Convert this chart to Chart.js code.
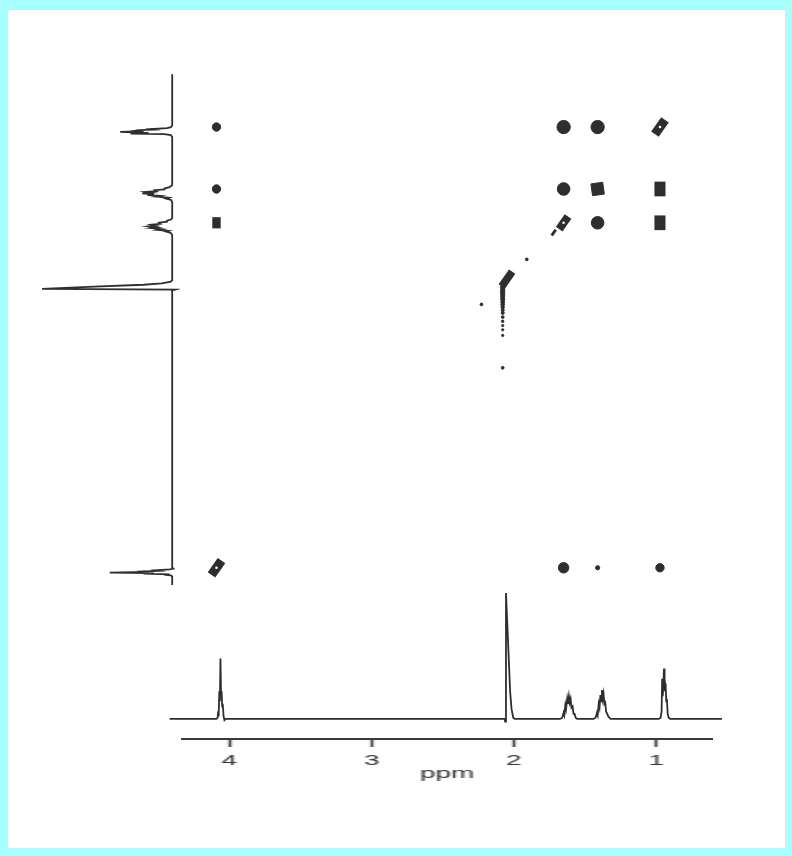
<!DOCTYPE html>
<html>
<head>
<meta charset="utf-8">
<script src="https://cdn.jsdelivr.net/npm/chart.js@4/dist/chart.umd.min.js"></script>
<style>
  html, body { margin: 0; padding: 0; }
  body { width: 792px; height: 856px; background: #a6fefe; position: relative; overflow: hidden; }
  #sheet { position: absolute; left: 8px; top: 10px; width: 777px; height: 838px; background: #fff; }
  canvas { position: absolute; }
</style>
</head>
<body>
<div id="sheet"></div>
<canvas id="proj" width="160" height="515" style="left:20px;top:70px;width:160px;height:515px"></canvas>
<canvas id="cosy" width="500" height="500" style="left:190px;top:90px;width:500px;height:500px"></canvas>
<canvas id="spec" width="600" height="175" style="left:150px;top:570px;width:600px;height:175px"></canvas>
<canvas id="axis" width="266" height="50" style="left:181px;top:733px;width:532px;height:50px"></canvas>
<script>
// 1D proton spectrum (ppm / relative intensity)
// the same trace is reused as the F1 projection on the left
const specPpm = [
  4.42, 4.09, 4.082, 4.078, 4.075, 4.070, 4.066, 4.062, 4.058, 4.054, 4.050, 4.046, 4.040, 4.034, 4.025,
  2.075, 2.062, 2.057, 2.051, 2.036, 2.022, 2.012, 2.000, 1.990,
  1.670, 1.655, 1.645, 1.640, 1.633, 1.628, 1.620, 1.615, 1.608, 1.603, 1.596, 1.590, 1.582, 1.575, 1.568, 1.560, 1.550,
  1.435, 1.420, 1.410, 1.405, 1.398, 1.392, 1.386, 1.381, 1.375, 1.370, 1.364, 1.358, 1.352, 1.346, 1.340, 1.330, 1.315,
  0.975, 0.962, 0.955, 0.951, 0.947, 0.943, 0.938, 0.934, 0.930, 0.926, 0.922, 0.918, 0.912, 0.905, 0.895, 0.53
];
const specInt = [
  0, 0, 1, 6, 2, 22, 14, 48, 20, 22, 10, 12, 2, -1, 0,
  0, 0, -2, 100, 60, 22, 8, 1, 0,
  0, 1, 5, 3, 11, 8, 16, 12, 18, 13, 16, 9, 10, 4, 4, 1, 0,
  0, 1, 5, 3, 12, 9, 19, 14, 23, 16, 20, 12, 13, 6, 6, 2, 0,
  0, 1, 6, 32, 18, 26, 40, 22, 28, 25, 14, 16, 4, 1, 0, 0
];

// COSY map peaks: F2 (horizontal ppm), F1 (vertical ppm), contour level, kind
const peakF2 = [
  4.06, 1.61, 1.37, 0.93,
  4.06, 1.61, 1.37, 0.93,
  4.06, 1.61, 1.37, 0.93,
  1.68, 1.87, 2.01, 2.19,
  2.04, 2.04, 2.04, 2.04, 2.04, 2.04, 2.04, 2.04, 2.04, 2.04, 2.04, 2.04, 2.04, 2.04, 2.04, 2.04,
  4.06, 1.61, 1.37, 0.93
];
const peakF1 = [
  0.93, 0.93, 0.93, 0.93,
  1.37, 1.37, 1.37, 1.37,
  1.61, 1.61, 1.61, 1.61,
  1.68, 1.87, 2.01, 2.19,
  2.07, 2.09, 2.11, 2.13, 2.15, 2.17, 2.19, 2.21, 2.23, 2.25, 2.28, 2.31, 2.34, 2.37, 2.41, 2.64,
  4.06, 4.06, 4.06, 4.06
];
const peakLevel = [
  6, 9.5, 9.5, 12.5,
  6, 9, 12, 10.5,
  8, 11, 9, 10.5,
  5, 2, 13, 2,
  3.2, 3.2, 3.2, 3, 3, 2.8, 2.6, 2.4, 2.2, 2.2, 2, 1.8, 1.6, 1.6, 1.6, 2,
  12.5, 7.5, 3, 6
];
const peakKind = [
  'round', 'round', 'round', 'diag',
  'round', 'round', 'square', 'tall',
  'tall', 'diag', 'round', 'tall',
  'ridge', 'round', 'ridge', 'round',
  'round', 'round', 'round', 'round', 'round', 'round', 'round', 'round',
  'round', 'round', 'round', 'round', 'round', 'round', 'round', 'round',
  'diag', 'round', 'round', 'round'
];

const ppmTicks = [1, 2, 3, 4];

Chart.defaults.animation = false;
Chart.defaults.events = [];
Chart.defaults.plugins.legend.display = false;
Chart.defaults.plugins.tooltip.enabled = false;
Chart.defaults.font.family = "'Liberation Sans', Arial, sans-serif";
Chart.defaults.color = '#333';
Chart.defaults.layout.autoPadding = false;

const ink = '#2e2e2e';
const specPoints = specPpm.map((p, i) => ({ x: p, y: specInt[i] }));
const projPoints = specPpm.map((p, i) => ({ x: specInt[i], y: p }));
const peakPoints = peakF2.map((p, i) => ({ x: p, y: peakF1[i] }));
const holePoints = peakPoints.filter((pt, i) => peakKind[i] === 'diag');

const hidden = (min, max, reverse) => ({ type: 'linear', display: false, min: min, max: max, reverse: reverse });

// bottom 1D trace
new Chart(document.getElementById('spec'), {
  type: 'scatter',
  data: {
    datasets: [{
      data: specPoints, showLine: true, borderColor: ink, borderWidth: 1.8,
      pointRadius: 0, clip: false
    }]
  },
  options: {
    responsive: false,
    layout: { padding: { left: 31, right: 38, top: 10, bottom: 6 } },
    scales: { x: hidden(0.60, 4.34, true), y: hidden(-15.9, 110.3, false) }
  }
});

// left F1 projection (same trace turned on its side)
new Chart(document.getElementById('proj'), {
  type: 'scatter',
  data: {
    datasets: [{
      data: projPoints, showLine: true, borderColor: ink, borderWidth: 1.8, pointRadius: 0
    }]
  },
  options: {
    responsive: false,
    scales: { x: hidden(-6, 117, true), y: hidden(0.50, 4.15, true) }
  }
});

// 2D map
const kindOf = c => peakKind[c.dataIndex];
const sizeOf = c => peakLevel[c.dataIndex] * 0.7;
new Chart(document.getElementById('cosy'), {
  type: 'scatter',
  data: {
    datasets: [
      { data: holePoints, pointRadius: 1.3, pointBackgroundColor: '#fff', pointBorderWidth: 0 },
      {
        data: peakPoints,
        pointStyle: c => ({ diag: 'line', ridge: 'line', tall: 'line', square: 'rect', round: 'circle' })[kindOf(c)],
        pointRotation: c => ({ diag: -55, ridge: -55, tall: 90, square: -8, round: 0 })[kindOf(c)],
        pointRadius: sizeOf,
        pointBorderWidth: c => {
          const k = kindOf(c);
          if (k === 'diag') return sizeOf(c) * 1.05;
          if (k === 'ridge') return sizeOf(c) * 0.85;
          if (k === 'tall') return sizeOf(c) * 1.5;
          return 1;
        },
        pointBackgroundColor: ink,
        pointBorderColor: ink
      }
    ]
  },
  options: {
    responsive: false,
    scales: { x: hidden(0.718, 4.247, true), y: hidden(0.667, 4.218, true) }
  }
});

// ppm axis (canvas is drawn stretched sideways like the wide lettering of the original)
new Chart(document.getElementById('axis'), {
  type: 'scatter',
  data: { datasets: [] },
  options: {
    responsive: false,
    scales: {
      x: {
        type: 'linear', min: 0.60, max: 4.34, reverse: true,
        afterBuildTicks: s => { s.ticks = ppmTicks.map(v => ({ value: v })); },
        afterFit: s => { s.height = 44; },
        border: { display: true, color: '#3a3a3a', width: 2 },
        grid: { drawOnChartArea: false, drawTicks: true, tickLength: 8, tickWidth: 1.4, tickColor: '#3a3a3a' },
        ticks: { padding: 6, font: { size: 14 }, color: '#333', callback: v => String(v) },
        title: { display: true, text: 'ppm', font: { size: 14 }, color: '#333', padding: 0 }
      },
      y: { display: false }
    }
  }
});
</script>
</body>
</html>
